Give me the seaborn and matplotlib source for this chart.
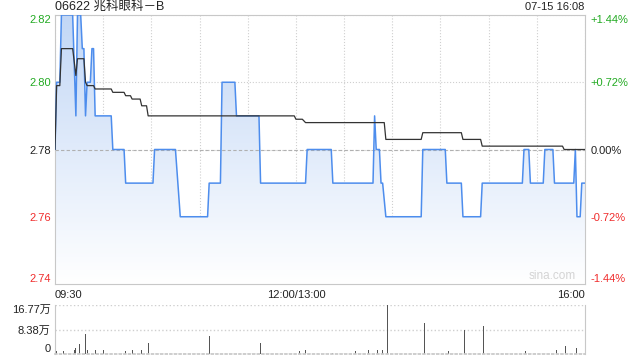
import numpy as np
import matplotlib
matplotlib.use("Agg")
import matplotlib.pyplot as plt
import seaborn as sns
from matplotlib.colors import LinearSegmentedColormap

# ---------------- data ----------------
title = "06622 兆科眼科－B"
stamp = "07-15 16:08"
prev_close = 2.78

# price vertices (minute since 09:30, trading minutes; 150 = 12:00/13:00)
price_min = [0, 1, 3, 4, 11, 13, 14, 16, 17, 18, 19, 20, 22, 23, 24, 25, 35, 36, 43, 44,
             61, 62, 75, 78, 95, 96, 103, 104, 112, 113, 127, 128, 156, 157, 172, 173,
             198, 199, 200, 202, 203, 204, 206, 228, 229, 243, 244, 253, 254, 265, 266,
             291, 292, 295, 296, 304, 305, 310, 311, 323, 324, 325, 327, 328, 330]
price_val = [2.78, 2.80, 2.80, 2.82, 2.82, 2.79, 2.82, 2.82, 2.81, 2.81, 2.79, 2.80, 2.80, 2.81,
             2.81, 2.79, 2.79, 2.78, 2.78, 2.77, 2.77, 2.78, 2.78, 2.76, 2.76, 2.77, 2.77, 2.80,
             2.80, 2.79, 2.79, 2.77, 2.77, 2.78, 2.78, 2.77, 2.77, 2.79, 2.78, 2.78, 2.77, 2.77,
             2.76, 2.76, 2.78, 2.78, 2.77, 2.77, 2.76, 2.76, 2.77, 2.77, 2.78, 2.78, 2.77, 2.77,
             2.78, 2.78, 2.77, 2.77, 2.78, 2.76, 2.76, 2.77, 2.77]

# average price vertices
avg_min = [0, 1, 3, 4, 11, 13, 14, 18, 19, 20, 24, 25, 35, 36, 43, 44, 47, 48, 53, 54, 57, 58,
           149, 150, 154, 156, 205, 206, 228, 229, 253, 254, 265, 266, 316, 317, 330]
avg_val = [2.78, 2.799, 2.799, 2.81, 2.81, 2.802, 2.807, 2.807, 2.800, 2.799, 2.799, 2.798,
           2.798, 2.797, 2.797, 2.796, 2.796, 2.795, 2.795, 2.793, 2.793, 2.790, 2.790, 2.789,
           2.789, 2.788, 2.788, 2.783, 2.783, 2.785, 2.785, 2.783, 2.783, 2.781, 2.781, 2.780,
           2.780]

# volume (shares)
vol_min = [1, 5, 12, 13, 15, 19, 20, 25, 30, 44, 48, 54, 58, 96, 128, 152, 156, 173, 187,
           195, 201, 204, 207, 230, 245, 255, 267, 293, 312, 318, 325]
vol_val = [9100, 9100, 12500, 20500, 35400, 69500, 14800, 14800, 12500, 9100, 12500, 14800,
           38800, 62700, 38800, 9100, 14800, 4600, 9100, 12500, 12500, 12500, 167700, 107200,
           11400, 83200, 97000, 11400, 14800, 28500, 20500]

price_ticks = [2.74, 2.76, 2.78, 2.80, 2.82]
price_labels = ["2.74", "2.76", "2.78", "2.80", "2.82"]
pct_labels = ["-1.44%", "-0.72%", "0.00%", "+0.72%", "+1.44%"]
time_ticks = [0, 150, 330]
time_labels = ["09:30", "12:00/13:00", "16:00"]
vol_ticks = [0, 83850, 167700]
vol_labels = ["0", "8.38万", "16.77万"]

# ---------------- style ----------------
sns.set_theme(style="white")
plt.rcParams["font.family"] = ["Liberation Sans", "Noto Sans CJK SC", "DejaVu Sans"]
plt.rcParams["font.size"] = 8
plt.rcParams["xtick.labelsize"] = 8
plt.rcParams["ytick.labelsize"] = 8

GREEN = "#22aa22"
RED = "#f02c2c"
GRID = "#cfcfcf"
SPINE = "#c8c8c8"
LINE = "#4d8ded"
TXT = "#222222"

fig = plt.figure(figsize=(6.4, 3.6), dpi=100)
ax = fig.add_axes([55 / 640, 1 - 284 / 360, 530 / 640, 269 / 360])
axv = fig.add_axes([55 / 640, 1 - 354 / 360, 530 / 640, 49 / 360])

ymin, ymax = price_ticks[0], price_ticks[-1]
xmin, xmax = 0, 330

# gradient fill under the price line
poly = ax.fill_between(price_min, price_val, ymin, facecolor="none", lw=0)
grad = np.linspace(1, 0, 256).reshape(-1, 1)
cmap = LinearSegmentedColormap.from_list("g", ["#ffffff", "#c2d7f6"])
im = ax.imshow(grad, extent=[xmin, xmax, ymin, ymax], aspect="auto", cmap=cmap,
               origin="upper", vmin=0, vmax=1, zorder=1)
im.set_clip_path(poly.get_paths()[0], transform=ax.transData)

sns.lineplot(x=price_min, y=price_val, ax=ax, color=LINE, lw=1.1, zorder=4)
sns.lineplot(x=avg_min, y=avg_val, ax=ax, color="#333333", lw=0.9, zorder=5)
ax.axhline(prev_close, color="#b0b0b0", lw=0.8, ls=(0, (3, 2)), zorder=2)

ax.set_xlim(xmin, xmax)
ax.set_ylim(ymin, ymax)
ax.set_xticks(time_ticks, time_labels)
ax.set_xticks(np.arange(30, 330, 30), minor=True)
ax.set_yticks(price_ticks, price_labels)
ax.grid(which="minor", axis="x", color=GRID, ls=":", lw=0.8)
ax.grid(which="major", axis="x", color=GRID, ls=":", lw=0.8)
ax.grid(which="major", axis="y", color=GRID, ls=":", lw=0.8)
ax.set_axisbelow(True)
ax.tick_params(axis="both", which="both", length=0)
ax.tick_params(axis="y", pad=3, labelsize=8)
ax.tick_params(axis="x", pad=4, labelsize=8, colors=TXT)
for s in ax.spines.values():
    s.set_color(SPINE)
    s.set_linewidth(0.8)
xl = ax.get_xticklabels()
xl[0].set_ha("left")
xl[-1].set_ha("right")
for t, v in zip(ax.get_yticklabels(), price_ticks):
    t.set_color(GREEN if v > prev_close else (RED if v < prev_close else TXT))
yl = ax.get_yticklabels()
yl[0].set_va("bottom")
yl[-1].set_va("top")
ax.set_xlabel("")
ax.set_ylabel("")

axr = ax.twinx()
axr.set_ylim(ymin, ymax)
axr.set_yticks(price_ticks, pct_labels)
axr.tick_params(axis="y", length=0, pad=4, labelsize=8)
for s in axr.spines.values():
    s.set_visible(False)
for t, v in zip(axr.get_yticklabels(), price_ticks):
    t.set_color(GREEN if v > prev_close else (RED if v < prev_close else TXT))
rl = axr.get_yticklabels()
rl[0].set_va("bottom")
rl[-1].set_va("top")
axr.grid(False)

ax.text(0.982, 0.008, "sina.com", transform=ax.transAxes, ha="right", va="bottom",
        color="#d4d4d4", fontsize=8.5)

fig.text(55 / 640, 1 - 7 / 360, title, ha="left", va="center", fontsize=9, color=TXT)
fig.text(584 / 640, 1 - 7 / 360, stamp, ha="right", va="center", fontsize=8, color=TXT)

# volume panel
axv.bar(vol_min, vol_val, width=0.6, color="#555555", lw=0)
axv.set_xlim(xmin, xmax)
axv.set_ylim(0, vol_ticks[-1])
axv.set_yticks(vol_ticks, vol_labels)
axv.set_xticks([])
axv.grid(which="major", axis="y", color=GRID, ls=":", lw=1.0)
axv.tick_params(axis="y", length=0, pad=3, labelsize=8, colors=TXT)
axv.spines["top"].set_visible(False)
axv.spines["bottom"].set_color(SPINE)
axv.spines["bottom"].set_linestyle(":")
for k in ("left", "right"):
    axv.spines[k].set_color(SPINE)
    axv.spines[k].set_linewidth(0.8)
vl = axv.get_yticklabels()
vl[0].set_va("bottom")
vl[-1].set_va("top")

fig.savefig("out.png", dpi=100)
